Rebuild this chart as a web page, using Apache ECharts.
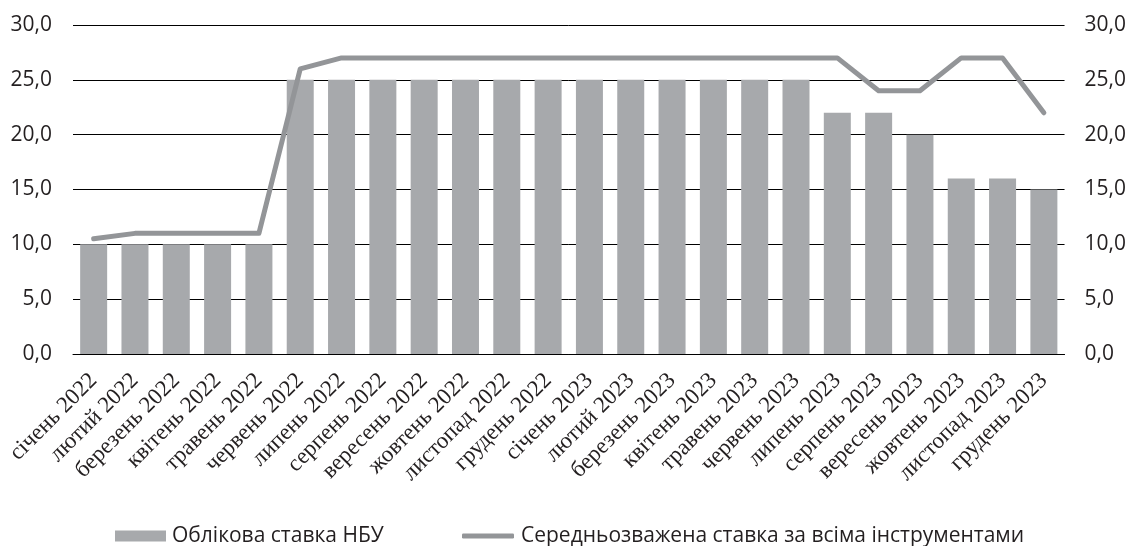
<!DOCTYPE html>
<html>
<head>
<meta charset="utf-8">
<script src="https://cdn.jsdelivr.net/npm/echarts@6/dist/echarts.min.js"></script>
<style>html,body{margin:0;padding:0;background:#fff;}#c{width:1129px;height:546px;}</style>
</head>
<body>
<div id="c"></div>
<script>
const categories = ['січень 2022','лютий 2022','березень 2022','квітень 2022','травень 2022','червень 2022','липень 2022','серпень 2022','вересень 2022','жовтень 2022','листопад 2022','грудень 2022','січень 2023','лютий 2023','березень 2023','квітень 2023','травень 2023','червень 2023','липень 2023','серпень 2023','вересень 2023','жовтень 2023','листопад 2023','грудень 2023'];
const policyRate = [10,10,10,10,10,25,25,25,25,25,25,25,25,25,25,25,25,25,22,22,20,16,16,15];
const weightedRate = [10.5,11,11,11,11,26,27,27,27,27,27,27,27,27,27,27,27,27,27,24,24,27,27,22];
const seriesNames = ['Облікова ставка НБУ','Середньозважена ставка за всіма інструментами'];

const chart = echarts.init(document.getElementById('c'), null, {renderer:'canvas'});
const fmt = v => v.toFixed(1).replace('.', ',');
const textColor = '#231f20';
const legendText = {fontFamily: 'Open Sans', fontSize: 21, lineHeight: 22, color: textColor};
chart.setOption({
  animation: false,
  backgroundColor: '#fff',
  grid: {left: 73, right: 64, top: 25, bottom: 192, containLabel: false},
  legend: [
    {left: 110, top: 520, padding: 5,
     itemWidth: 51, itemHeight: 11,
     textStyle: Object.assign({padding: [0,0,0,1]}, legendText),
     data: [{name: seriesNames[0], icon: 'rect'}]},
    {left: 457, top: 520, padding: 5,
     itemWidth: 52, itemHeight: 5,
     textStyle: Object.assign({padding: [0,0,0,2]}, legendText),
     data: [{name: seriesNames[1], icon: 'roundRect', itemStyle: {color: '#939598'}}]}
  ],
  xAxis: {
    type: 'category', data: categories,
    axisTick: {show: false},
    axisLine: {lineStyle: {color: '#000', width: 1}},
    axisLabel: {rotate: 45, interval: 0, margin: 23, fontFamily: 'Liberation Serif', fontSize: 23, color: textColor}
  },
  yAxis: [
    {type: 'value', min: 0, max: 30, interval: 5,
     axisLine: {show: false}, axisTick: {show: false},
     splitLine: {lineStyle: {color: '#000', width: 1}},
     axisLabel: {formatter: fmt, margin: 21, fontFamily: 'Open Sans', fontSize: 21, color: textColor}},
    {type: 'value', min: 0, max: 30, interval: 5, position: 'right',
     axisLine: {show: false}, axisTick: {show: false}, splitLine: {show: false},
     axisLabel: {formatter: fmt, margin: 20, fontFamily: 'Open Sans', fontSize: 21, color: textColor}}
  ],
  series: [
    {name: seriesNames[0], type: 'bar', data: policyRate, barWidth: 27,
     itemStyle: {color: '#a7a9ac'}},
    {name: seriesNames[1], type: 'line', data: weightedRate, symbol: 'none',
     lineStyle: {color: '#939598', width: 5, cap: 'round', join: 'round'},
     itemStyle: {color: '#939598'}}
  ]
});
</script>
</body>
</html>
